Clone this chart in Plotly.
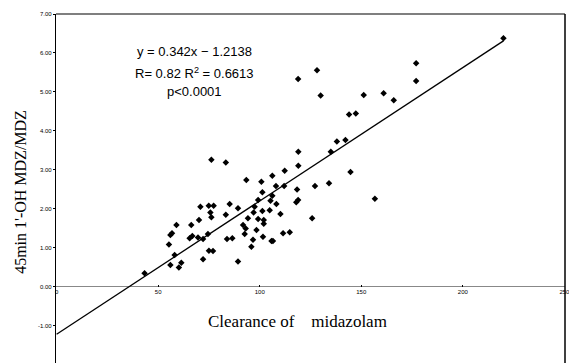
import plotly.graph_objects as go

# Data
clearance = [43.3, 55.3, 56.0, 56.8, 56.0, 58.1, 59.0, 60.2, 61.4, 65.5,
             66.8, 66.3, 69.6, 70.1, 70.8, 72.1, 72.1, 74.5, 74.9, 75.0,
             77.0, 75.7, 76.2, 77.3, 76.2, 83.3, 83.3, 83.9, 85.2, 86.5,
             89.3, 89.3, 91.8, 92.6, 93.1, 93.4, 94.2, 95.9, 96.7, 97.5,
             97.0, 98.4, 99.2, 99.2, 100.8, 101.3, 101.3, 101.6, 102.0, 102.0,
             104.9, 105.3, 105.8, 106.5, 106.2, 106.2, 108.0, 108.2, 110.2, 111.5,
             112.0, 112.3, 114.8, 118.0, 118.4, 118.9, 119.0, 119.0, 118.9, 125.8,
             127.2, 128.2, 130.0, 134.1, 135.0, 138.0, 142.2, 144.0, 144.7, 147.3,
             151.2, 156.7, 161.0, 166.0, 177.0, 177.0, 220.0]
ratio = [0.35, 1.09, 1.33, 1.38, 0.56, 0.82, 1.59, 0.50, 0.62, 1.25,
         1.31, 1.59, 1.27, 1.72, 2.06, 1.23, 0.71, 1.36, 2.08, 0.93,
         0.92, 1.91, 1.79, 2.08, 3.26, 3.19, 1.85, 1.23, 2.13, 1.25,
         2.02, 0.65, 1.59, 1.36, 1.50, 2.74, 1.76, 1.03, 1.21, 2.06,
         1.91, 1.46, 2.23, 1.74, 2.70, 2.43, 1.95, 1.29, 1.72, 1.62,
         1.97, 2.21, 1.18, 1.18, 2.85, 2.34, 2.59, 2.13, 1.87, 1.38,
         2.59, 2.98, 1.40, 2.17, 2.50, 2.23, 3.11, 3.47, 5.33, 1.76,
         2.59, 5.56, 4.91, 2.66, 3.47, 3.73, 3.77, 4.42, 2.95, 4.45,
         4.92, 2.26, 4.97, 4.79, 5.74, 5.28, 6.38]

fit_slope = 0.0342
fit_intercept = -1.2138
fit_x = [0, 220]
fit_y = [fit_slope * v + fit_intercept for v in fit_x]

x_ticks = [0, 50, 100, 150, 200, 250]
y_ticks = [-1, 0, 1, 2, 3, 4, 5, 6, 7]

eq_lines = ["y = 0.342x \u2212 1.2138", "R= 0.82 R<sup>2</sup> = 0.6613", "p<0.0001"]
x_title = "Clearance of \u00a0\u00a0 midazolam"
y_title = "45min 1'-OH MDZ/MDZ"

y_min, y_max = -1.95, 7.0
x_min, x_max = -0.3, 250.3

fig = go.Figure()
fig.add_trace(go.Scatter(x=fit_x, y=fit_y, mode="lines",
                         line=dict(color="black", width=1.3),
                         showlegend=False, hoverinfo="skip"))
fig.add_trace(go.Scatter(x=clearance, y=ratio, mode="markers",
                         marker=dict(symbol="diamond", size=5, color="black"),
                         showlegend=False))

xpos = (0 - y_min) / (y_max - y_min)

fig.update_layout(
    width=569, height=363,
    margin=dict(l=56, r=4, t=14, b=0),
    paper_bgcolor="white", plot_bgcolor="white",
    font=dict(family="Liberation Serif", color="black"),
    xaxis=dict(range=[x_min, x_max], tickvals=x_ticks, ticktext=[str(v) for v in x_ticks],
               showgrid=False, zeroline=False, showline=False,
               anchor="free", position=xpos, ticklabeloverflow="allow",
               ticks="inside", ticklen=2, tickcolor="black",
               tickfont=dict(size=6, family="Liberation Sans", color="black")),
    yaxis=dict(range=[y_min, y_max], tickvals=y_ticks,
               ticktext=[f"{v:.2f}" for v in y_ticks],
               showgrid=False, zeroline=True, zerolinecolor="#888888", zerolinewidth=1.2,
               showline=True, linecolor="black", linewidth=1.2,
               ticks="outside", ticklen=2, tickcolor="black",
               tickfont=dict(size=6, family="Liberation Sans", color="black")),
    shapes=[
        dict(type="line", xref="paper", yref="paper", x0=0, x1=1, y0=1, y1=1,
             line=dict(color="black", width=1.2)),
        dict(type="line", xref="paper", yref="paper", x0=1, x1=1, y0=0, y1=1,
             line=dict(color="black", width=1.5)),
    ],
)

eq_y = [6.03, 5.49, 5.0]
for txt, yy in zip(eq_lines, eq_y):
    fig.add_annotation(x=68, y=yy, xref="x", yref="y", text=txt, showarrow=False,
                       xanchor="center", yanchor="middle",
                       font=dict(family="Liberation Sans", size=13, color="black"))

fig.add_annotation(x=0.475, y=0.12, xref="paper", yref="paper", text=x_title,
                   showarrow=False, xanchor="center", yanchor="middle",
                   font=dict(family="Liberation Serif", size=17, color="black"))
fig.add_annotation(x=-0.069, y=0.49, xref="paper", yref="paper", text=y_title,
                   textangle=-90, showarrow=False, xanchor="center", yanchor="middle",
                   font=dict(family="Liberation Serif", size=16, color="black"))

fig.write_html("out.html")
